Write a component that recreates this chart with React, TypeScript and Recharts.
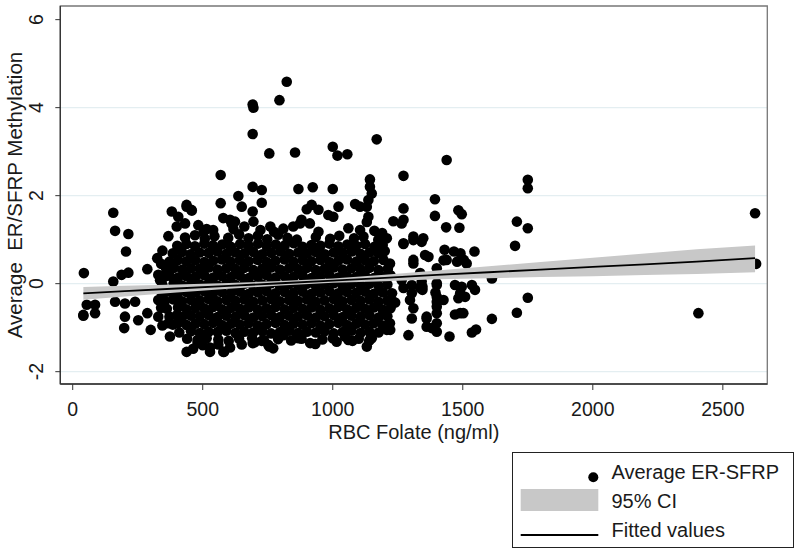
import {
  Area,
  ComposedChart,
  Line,
  ReferenceArea,
  ReferenceLine,
  Scatter,
  XAxis,
  YAxis,
} from "recharts";

type Pt = [number, number];

// RBC folate (ng/ml) vs average ER/SFRP methylation
const leftFringe: Pt[] = [
  [43, 0.24], [41, -0.71], [86, -0.67], [54, -0.48], [86, -0.48], [41, -0.73],
  [156, 1.61], [163, 1.2], [214, 1.13], [205, 0.73], [214, 0.25], [156, 0.05],
  [188, 0.2], [287, 0.33], [325, 0.58], [368, 1.08], [329, 0.2], [336, 0.08],
  [163, -0.41], [201, -0.45], [240, -0.41], [201, -0.75], [198, -1.01],
  [252, -0.83], [287, -0.67], [300, -1.05], [329, -0.37], [329, -0.75],
  [374, -1.2], [368, -0.9], [340, 0.45], [345, 0.75], [335, -0.15],
  [340, -0.55], [345, -0.95],
];

const topFringe: Pt[] = [
  [381, 1.64], [406, 1.52], [438, 1.75], [458, 1.66], [438, 1.79], [456, 1.68],
  [400, 1.3], [432, 1.37], [483, 1.33], [515, 1.24], [569, 2.47], [569, 1.83],
  [579, 1.49], [611, 1.37], [624, 1.41], [637, 1.99], [650, 1.75], [692, 4.07],
  [695, 4.0], [692, 3.4], [692, 2.2], [727, 2.13], [727, 1.84], [692, 1.64],
  [695, 1.41], [756, 2.96], [795, 4.17], [823, 4.59], [855, 2.98], [868, 2.15],
  [923, 2.19], [900, 1.69], [919, 1.79], [945, 1.68], [874, 1.37], [912, 1.37],
  [983, 1.56], [1002, 1.52], [1000, 3.11], [1018, 2.91], [1056, 2.94],
  [1000, 2.15], [1022, 1.75], [1060, 1.26], [1105, 1.22], [1086, 1.81],
  [1105, 1.75], [1131, 1.75], [1137, 1.9], [1150, 2.05], [1143, 2.2],
  [1143, 2.37], [1137, 1.52], [1169, 3.28], [1208, 1.03], [1233, 1.42],
  [1265, 1.37], [1272, 1.71], [1272, 2.45], [1272, 1.45], [1310, 1.07],
  [1348, 1.03], [503, 1.17], [540, 1.22], [605, 1.45], [618, 1.24], [660, 1.3],
  [722, 1.22], [774, 1.18], [848, 1.3], [880, 1.45], [945, 1.18], [1131, 1.4],
  [1160, 1.2], [1190, 1.15], [760, 1.3], [810, 1.25],
];

const coreUpper: Pt[] = [
  [432, 1.05], [470, 1.1], [508, 1.02], [545, 1.08], [598, 1.04], [640, 1.12],
  [676, 1.03], [712, 1.09], [748, 1.01], [790, 1.11], [826, 1.04], [862, 1.0],
  [935, 1.06], [990, 1.02], [1025, 1.09], [1082, 1.03], [1118, 1.07], [1175, 1.0],
  [402, 0.86], [437, 0.9], [470, 0.85], [506, 0.91], [539, 0.87], [575, 0.89],
  [608, 0.84], [644, 0.9], [677, 0.86], [713, 0.91], [746, 0.85], [781, 0.89],
  [815, 0.87], [850, 0.92], [884, 0.84], [918, 0.88], [953, 0.86], [987, 0.91],
  [1021, 0.85], [1056, 0.89], [1090, 0.86], [1124, 0.9], [1160, 0.84], [1192, 0.88],
  [385, 0.69], [420, 0.72], [453, 0.67], [488, 0.71], [522, 0.7], [556, 0.73],
  [591, 0.68], [626, 0.71], [660, 0.69], [695, 0.72], [729, 0.67], [763, 0.7],
  [798, 0.73], [832, 0.68], [867, 0.71], [901, 0.69], [935, 0.72], [970, 0.67],
  [1004, 0.71], [1038, 0.7], [1073, 0.73], [1107, 0.68], [1141, 0.71], [1176, 0.69],
  [1200, 0.74],
  [372, 0.5], [405, 0.54], [437, 0.51], [471, 0.53], [506, 0.49], [540, 0.52],
  [574, 0.55], [608, 0.5], [643, 0.53], [677, 0.51], [711, 0.54], [746, 0.49],
  [780, 0.52], [815, 0.55], [849, 0.5], [884, 0.53], [918, 0.51], [952, 0.54],
  [987, 0.49], [1021, 0.52], [1055, 0.55], [1090, 0.5], [1124, 0.53], [1158, 0.51],
  [1195, 0.54],
  [360, 0.33], [390, 0.36], [422, 0.32], [455, 0.35], [489, 0.34], [523, 0.37],
  [557, 0.32], [591, 0.35], [626, 0.33], [660, 0.36], [694, 0.31], [729, 0.34],
  [763, 0.37], [797, 0.32], [832, 0.35], [866, 0.33], [901, 0.36], [935, 0.31],
  [969, 0.34], [1004, 0.37], [1038, 0.32], [1072, 0.35], [1107, 0.33], [1141, 0.36],
  [1176, 0.31], [1212, 0.34],
  [352, 0.15], [372, 0.18], [405, 0.14], [438, 0.17], [472, 0.16], [506, 0.19],
  [540, 0.14], [574, 0.17], [609, 0.15], [643, 0.18], [677, 0.13], [712, 0.16],
  [746, 0.19], [780, 0.14], [815, 0.17], [849, 0.15], [884, 0.18], [918, 0.13],
  [952, 0.16], [987, 0.19], [1021, 0.14], [1055, 0.17], [1090, 0.15], [1124, 0.18],
  [1158, 0.13], [1193, 0.16], [1222, 0.19],
];

const coreLower: Pt[] = [
  [345, -0.03], [388, 0.0], [421, -0.04], [455, -0.01], [489, -0.02], [523, 0.01],
  [557, -0.04], [591, -0.01], [626, -0.03], [660, 0.0], [694, -0.05], [729, -0.02],
  [763, 0.01], [797, -0.04], [832, -0.01], [866, -0.03], [901, 0.0], [935, -0.05],
  [969, -0.02], [1004, 0.01], [1038, -0.04], [1072, -0.01], [1107, -0.03], [1141, 0.0],
  [1176, -0.05], [1210, -0.02],
  [350, -0.21], [372, -0.18], [405, -0.22], [438, -0.19], [472, -0.2], [506, -0.17],
  [540, -0.22], [574, -0.19], [609, -0.21], [643, -0.18], [677, -0.23], [712, -0.2],
  [746, -0.17], [780, -0.22], [815, -0.19], [849, -0.21], [884, -0.18], [918, -0.23],
  [952, -0.2], [987, -0.17], [1021, -0.22], [1055, -0.19], [1090, -0.21], [1124, -0.18],
  [1158, -0.23], [1193, -0.2], [1228, -0.22],
  [355, -0.39], [388, -0.36], [421, -0.4], [455, -0.37], [489, -0.38], [523, -0.35],
  [557, -0.4], [591, -0.37], [626, -0.39], [660, -0.36], [694, -0.41], [729, -0.38],
  [763, -0.35], [797, -0.4], [832, -0.37], [866, -0.39], [901, -0.36], [935, -0.41],
  [969, -0.38], [1004, -0.35], [1038, -0.4], [1072, -0.37], [1107, -0.39], [1141, -0.36],
  [1176, -0.41], [1210, -0.38],
  [362, -0.57], [405, -0.54], [438, -0.58], [472, -0.55], [506, -0.56], [540, -0.53],
  [574, -0.58], [609, -0.55], [643, -0.57], [677, -0.54], [712, -0.59], [746, -0.56],
  [780, -0.53], [815, -0.58], [849, -0.55], [884, -0.57], [918, -0.54], [952, -0.59],
  [987, -0.56], [1021, -0.53], [1055, -0.58], [1090, -0.55], [1124, -0.57], [1158, -0.54],
  [1193, -0.59], [1222, -0.56],
  [372, -0.75], [400, -0.72], [421, -0.76], [455, -0.73], [489, -0.74], [523, -0.71],
  [557, -0.76], [591, -0.73], [626, -0.75], [660, -0.72], [694, -0.77], [729, -0.74],
  [763, -0.71], [797, -0.76], [832, -0.73], [866, -0.75], [901, -0.72], [935, -0.77],
  [969, -0.74], [1004, -0.71], [1038, -0.76], [1072, -0.73], [1107, -0.75], [1141, -0.72],
  [1176, -0.77], [1210, -0.74],
  [385, -0.93], [405, -0.9], [438, -0.94], [472, -0.91], [506, -0.92], [540, -0.89],
  [574, -0.94], [609, -0.91], [643, -0.93], [677, -0.9], [712, -0.95], [746, -0.92],
  [780, -0.89], [815, -0.94], [849, -0.91], [884, -0.93], [918, -0.9], [952, -0.95],
  [987, -0.92], [1021, -0.89], [1055, -0.94], [1090, -0.91], [1124, -0.93], [1158, -0.9],
  [1193, -0.95],
  [410, -1.11], [455, -1.08], [489, -1.12], [523, -1.09], [557, -1.1], [591, -1.07],
  [626, -1.12], [660, -1.09], [694, -1.11], [729, -1.08], [763, -1.13], [797, -1.1],
  [832, -1.07], [866, -1.12], [901, -1.09], [935, -1.11], [969, -1.08], [1004, -1.13],
  [1038, -1.1], [1072, -1.07], [1107, -1.12], [1141, -1.09], [1176, -1.11],
  [440, -1.25], [480, -1.28], [515, -1.24], [560, -1.27], [600, -1.3], [640, -1.25],
  [690, -1.24], [735, -1.28], [790, -1.26], [840, -1.29], [880, -1.25], [960, -1.27],
  [1000, -1.24], [1060, -1.28], [1100, -1.25], [1140, -1.3],
];

const rightFringe: Pt[] = [
  [1195, 0.73], [1220, 0.46], [1272, 0.92], [1310, 0.99], [1342, 0.95], [1310, 0.46],
  [1355, 0.65], [1368, 0.61], [1265, 0.08], [1304, -0.03], [1342, 0.05], [1400, 0.01],
  [1233, -0.41], [1297, -0.37], [1310, -0.56], [1304, -0.79], [1291, -1.17],
  [1361, -0.79], [1381, -1.01], [1400, -0.41], [1208, -1.05], [1220, -0.9],
  [1195, -0.67], [1240, -0.43], [1221, -1.05], [1146, -1.24], [1131, -1.43],
  [1272, 0.9], [1310, 0.54], [1272, -0.1], [1304, -0.22], [1336, -0.1],
  [1430, 0.77], [1466, 0.73], [1491, 0.69], [1504, 0.54], [1478, 0.5], [1438, 0.54],
  [1515, 0.46], [1545, 0.73], [1426, 0.53], [1400, 0.35], [1336, 0.24],
  [1345, -0.07], [1345, -0.14], [1400, -0.03], [1470, -0.03], [1496, -0.07],
  [1535, -0.03], [1547, -0.14], [1612, 0.12], [1400, -0.3], [1426, -0.37],
  [1400, -0.52], [1400, -0.67], [1490, -0.22], [1509, -0.3], [1483, -0.33],
  [1361, -0.75], [1361, -0.98], [1400, -0.9], [1400, -1.09], [1490, -0.67],
  [1502, -0.67], [1449, -1.2], [1535, -1.11], [1551, -1.04], [1612, -0.8],
  [1470, -0.7], [1395, -0.2], [1393, 1.92], [1393, 1.54], [1438, 2.81],
  [1483, 1.67], [1496, 1.58], [1436, 1.28], [1487, 1.27], [1708, 1.41],
  [1750, 1.26], [1750, 2.36], [1750, 2.17], [1701, 0.86], [1750, -0.32],
  [1708, -0.66], [2624, 1.6], [2628, 0.45], [2406, -0.67],
];

const bottomFringe: Pt[] = [
  [438, -1.55], [463, -1.48], [528, -1.55], [528, -1.45], [582, -1.55], [605, -1.45],
  [700, -1.33], [752, -1.39], [771, -1.47], [756, -1.43], [913, -1.35], [933, -1.37],
  [1015, -1.32], [1047, -1.2], [1150, -1.24], [868, -1.24], [810, -1.17], [579, -1.55],
  [692, -1.35], [862, -1.19], [727, -1.3], [1076, -1.3], [560, -1.38], [650, -1.38],
  [500, -1.4], [480, -1.35],
];

// fitted values and 95% CI
const fitX = [41, 200, 400, 600, 800, 1000, 1200, 1400, 1600, 1800, 2000, 2200, 2400, 2624];
const fitY = [-0.22, -0.17, -0.11, -0.05, 0.01, 0.07, 0.13, 0.2, 0.26, 0.32, 0.38, 0.44, 0.5, 0.58];
const ciLow = [-0.365, -0.29, -0.2, -0.115, -0.04, 0.02, 0.055, 0.1, 0.125, 0.15, 0.17, 0.195, 0.22, 0.26];
const ciHigh = [-0.075, -0.05, -0.02, 0.015, 0.06, 0.12, 0.205, 0.3, 0.395, 0.49, 0.59, 0.685, 0.78, 0.87];

const xTicks = [0, 500, 1000, 1500, 2000, 2500];
const yTicks = [-2, 0, 2, 4, 6];
const gridLevels = [-2, 0, 2, 4];

const scatterData = [
  ...leftFringe,
  ...topFringe,
  ...coreUpper,
  ...coreLower,
  ...rightFringe,
  ...bottomFringe,
].map(([x, y]) => ({ x, y }));

const fitTable = fitX.map((x, i) => ({
  x,
  fit: fitY[i],
  band: [ciLow[i], ciHigh[i]],
}));

const FONT = "'Liberation Sans', Arial, Helvetica, sans-serif";
const INK = "#1a1a1a";

const XTick = ({ x, y, payload }: any) => (
  <text x={x} y={y} dy="0.71em" textAnchor="middle" fontSize={19.5} fontFamily={FONT} fill={INK}>
    {payload.value}
  </text>
);

const YTick = ({ x, y, payload }: any) => (
  <text
    x={x}
    y={y}
    transform={`rotate(-90, ${x}, ${y})`}
    textAnchor="middle"
    fontSize={19.5}
    fontFamily={FONT}
    fill={INK}
  >
    {payload.value}
  </text>
);

const YTitle = ({ viewBox }: any) => {
  const cx = viewBox.x + 22;
  const cy = viewBox.y + viewBox.height / 2;
  return (
    <text
      x={cx}
      y={cy}
      transform={`rotate(-90, ${cx}, ${cy})`}
      textAnchor="middle"
      fontSize={20.5}
      fontFamily={FONT}
      fill={INK}
      style={{ whiteSpace: "pre" }}
    >
      {"Average  ER/SFRP Methylation"}
    </text>
  );
};

const Dot = ({ cx, cy }: any) => <circle cx={cx} cy={cy} r={5.3} fill="#000" />;

function LegendBox() {
  return (
    <svg
      width={800}
      height={554}
      style={{ position: "absolute", left: 0, top: 0, pointerEvents: "none" }}
    >
      <rect x={512.5} y={452.5} width={281} height={95} fill="#fff" stroke="#222" strokeWidth={1} />
      <circle cx={593.3} cy={477.3} r={5} fill="#000" />
      <text x={611.5} y={479.3} fontSize={20} fontFamily={FONT} fill={INK}>
        Average ER-SFRP
      </text>
      <rect x={520.7} y={489} width={77.6} height={22} fill="#c8c8c8" />
      <text x={611.5} y={508.3} fontSize={20} fontFamily={FONT} fill={INK}>
        95% CI
      </text>
      <line x1={520.7} x2={598.3} y1={535} y2={535} stroke="#000" strokeWidth={2} />
      <text x={611.5} y={537.3} fontSize={20} fontFamily={FONT} fill={INK}>
        Fitted values
      </text>
    </svg>
  );
}

export default function App() {
  return (
    <div style={{ position: "absolute", left: 0, top: 0, width: 800, height: 554, background: "#fff" }}>
      <ComposedChart
        width={800}
        height={554}
        data={fitTable}
        margin={{ top: 6, right: 32.7, bottom: 110, left: 0 }}
      >
        {gridLevels.map((v) => (
          <ReferenceLine key={v} y={v} stroke="#e4eef1" strokeWidth={1.3} zIndex={50} />
        ))}
        <XAxis
          dataKey="x"
          type="number"
          domain={[-47.7, 2671]}
          allowDataOverflow
          ticks={xTicks}
          tick={<XTick />}
          tickSize={6}
          tickMargin={12}
          height={60}
          stroke="#333"
          axisLine={{ stroke: "#333", strokeWidth: 1.3 }}
          tickLine={{ stroke: "#333" }}
          label={{
            value: "RBC Folate (ng/ml)",
            position: "insideBottom",
            offset: 5,
            fontSize: 20,
            fontFamily: FONT,
            fill: INK,
          }}
        />
        <YAxis
          type="number"
          domain={[-2.28, 6.31]}
          allowDataOverflow
          ticks={yTicks}
          tick={<YTick />}
          tickSize={5}
          tickMargin={12}
          width={60.3}
          axisLine={{ stroke: "#333", strokeWidth: 1.3 }}
          tickLine={{ stroke: "#333" }}
          label={<YTitle />}
        />
        <ReferenceArea
          x1={-47.7}
          x2={2671}
          y1={-2.28}
          y2={6.31}
          fill="none"
          stroke="#777"
          strokeWidth={1.3}
          ifOverflow="visible"
        />
        <Scatter
          data={scatterData}
          dataKey="y"
          shape={<Dot />}
          isAnimationActive={false}
          zIndex={100}
        />
        <Area
          dataKey="band"
          type="linear"
          fill="#c8c8c8"
          fillOpacity={1}
          stroke="none"
          isAnimationActive={false}
          zIndex={200}
        />
        <Line
          dataKey="fit"
          type="linear"
          stroke="#000"
          strokeWidth={1.8}
          dot={false}
          activeDot={false}
          isAnimationActive={false}
          zIndex={300}
        />
      </ComposedChart>
      <LegendBox />
    </div>
  );
}
